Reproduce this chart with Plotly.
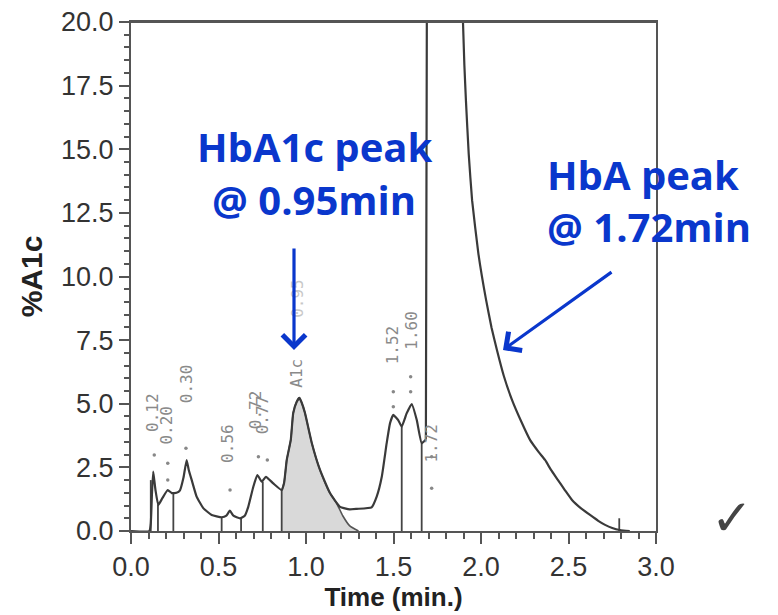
import plotly.graph_objects as go

# ---- data ----
time_min = [0.0, 0.105, 0.113, 0.12, 0.127, 0.14, 0.156, 0.18, 0.21, 0.233, 0.26, 0.28, 0.3, 0.318,
            0.33, 0.347, 0.375, 0.413, 0.461, 0.518, 0.545, 0.565, 0.585, 0.623, 0.65, 0.67, 0.699,
            0.722, 0.747, 0.771, 0.813, 0.861, 0.875, 0.89, 0.913, 0.927, 0.947, 0.962, 0.975, 0.994,
            1.033, 1.08, 1.137, 1.194, 1.25, 1.29, 1.375, 1.404, 1.433, 1.461, 1.48, 1.499, 1.527,
            1.547, 1.575, 1.604, 1.633, 1.661, 1.685, 1.697, 1.89, 1.897, 1.905, 1.914, 1.93, 1.949,
            1.985, 2.029, 2.06, 2.091, 2.13, 2.177, 2.23, 2.28, 2.33, 2.366, 2.40, 2.44, 2.48, 2.52,
            2.57, 2.623, 2.67, 2.709, 2.75, 2.794, 2.85]
pct_a1c = [0.0, 0.0, 0.3, 1.5, 2.33, 1.6, 1.02, 1.3, 1.61, 1.49, 1.5, 1.6, 2.1, 2.79,
           2.4, 2.0, 1.35, 0.9, 0.63, 0.54, 0.6, 0.8, 0.6, 0.5, 0.6, 0.95, 1.74,
           2.2, 1.94, 2.13, 1.87, 1.61, 1.9, 2.79, 3.58, 4.64, 5.08, 5.23, 5.05, 4.64,
           3.46, 2.4, 1.49, 0.95, 0.85, 0.87, 0.93, 1.35, 2.13, 3.45, 4.23, 4.56, 4.36,
           4.1, 4.62, 4.99, 4.36, 3.45, 3.6, 40.0, 40.0, 20.0, 18.3, 16.9, 14.8, 13.0,
           10.9, 9.08, 8.0, 7.11, 6.1, 5.15, 4.3, 3.58, 3.1, 2.79, 2.4, 2.0, 1.6, 1.22,
           0.9, 0.63, 0.4, 0.24, 0.12, 0.04, 0.0]

# shaded A1c peak area (with tangent skim to baseline)
a1c_time = [0.861, 0.875, 0.89, 0.913, 0.927, 0.947, 0.962, 0.975, 0.994, 1.033, 1.08, 1.137,
            1.175, 1.21, 1.25, 1.3]
a1c_val = [1.61, 1.9, 2.79, 3.58, 4.64, 5.08, 5.23, 5.05, 4.64, 3.46, 2.4, 1.49,
           1.09, 0.6, 0.2, 0.0]

# integration drop lines (time, height)
drop_t = [0.113, 0.154, 0.242, 0.518, 0.629, 0.753, 0.861, 1.547, 1.661, 2.79]
drop_v = [2.0, 1.05, 1.49, 0.54, 0.5, 1.94, 1.61, 4.1, 3.45, 0.5]

# small peak markers above peaks
mark_t = [0.133, 0.21, 0.21, 0.314, 0.566, 0.728, 0.779, 1.499, 1.499, 1.598, 1.598, 1.718, 1.718]
mark_v = [2.99, 2.66, 2.0, 3.25, 1.61, 2.92, 2.79, 5.47, 4.88, 6.06, 5.47, 2.92, 1.68]

# rotated peak labels
lab_text = ["0.12", "0.20", "0.30", "0.56", "0.72", "0.77", "A1c", "0.95", "1.52", "1.60", "1.72"]
lab_t = [0.126, 0.204, 0.322, 0.554, 0.709, 0.749, 0.947, 0.954, 1.499, 1.604, 1.718]
lab_v = [4.64, 4.17, 5.78, 3.46, 4.75, 4.55, 6.21, 9.16, 7.31, 7.9, 3.46]

x_ticks = [0.0, 0.5, 1.0, 1.5, 2.0, 2.5, 3.0]
y_ticks = [0.0, 2.5, 5.0, 7.5, 10.0, 12.5, 15.0, 17.5, 20.0]

# page has an 8px body margin; figure is sized/shifted to compensate
OFF = 8
W, H = 778 - OFF, 615 - OFF
PL, PR, PT, PB = 131, 656, 22, 531          # plot area in page pixels
L, T = PL - OFF, PT - OFF
R, B = W - (PR - OFF), H - (PB - OFF)
pw, ph = PR - PL, PB - PT


def px(xp):
    return (xp - PL) / pw


def py(yp):
    return (PB - yp) / ph


fig = go.Figure()

fig.add_trace(go.Scatter(x=a1c_time, y=a1c_val, mode="lines", fill="tozeroy",
                         fillcolor="#d9d9d9", line=dict(color="#555555", width=1.6, shape="spline",
                                                        smoothing=0.5),
                         hoverinfo="skip", showlegend=False))

dx, dy = [], []
for t, v in zip(drop_t, drop_v):
    dx += [t, t, None]
    dy += [0, v, None]
fig.add_trace(go.Scatter(x=dx, y=dy, mode="lines", line=dict(color="#444444", width=1.8),
                         hoverinfo="skip", showlegend=False))

# main trace: smooth parts as splines, the steep, off-scale HbA edges as straight lines
i_up = time_min.index(1.685)
i_down = time_min.index(1.897)
segments = [(0, i_up + 1, "spline"), (i_up, i_down + 1, "linear"), (i_down, len(time_min), "spline")]
for a, b, shape in segments:
    fig.add_trace(go.Scatter(x=time_min[a:b], y=pct_a1c[a:b], mode="lines",
                             line=dict(color="#3a3a3a", width=2.2, shape=shape, smoothing=0.4),
                             showlegend=False))

fig.add_trace(go.Scatter(x=mark_t, y=mark_v, mode="markers",
                         marker=dict(color="#888888", size=3.5), showlegend=False,
                         hoverinfo="skip"))

for txt, t, v in zip(lab_text, lab_t, lab_v):
    fig.add_annotation(x=t, y=v, text=txt, showarrow=False, textangle=-90,
                       font=dict(family="DejaVu Sans Mono", size=16,
                                 color="#c8c8c8" if txt == "0.95" else "#8a8a8a"))

blue = "#0a37cc"
bfont = dict(family="Open Sans", size=40, color=blue, weight="bold")
fig.add_annotation(xref="paper", yref="paper", x=px(314), y=py(146), text="HbA1c peak",
                   showarrow=False, xanchor="center", yanchor="middle", font=bfont)
fig.add_annotation(xref="paper", yref="paper", x=px(314), y=py(199), text="@ 0.95min",
                   showarrow=False, xanchor="center", yanchor="middle", font=bfont)
fig.add_annotation(xref="paper", yref="paper", x=px(545), y=py(174), text="HbA peak",
                   showarrow=False, xanchor="left", yanchor="middle", font=bfont)
fig.add_annotation(xref="paper", yref="paper", x=px(545), y=py(227), text="@ 1.72min",
                   showarrow=False, xanchor="left", yanchor="middle", font=bfont)

# arrows
fig.add_annotation(xref="paper", yref="paper", x=px(294), y=py(350), ax=0, ay=-103,
                   text="", showarrow=True, arrowhead=4, arrowsize=1.4, arrowwidth=3.2,
                   arrowcolor=blue, standoff=0)
fig.add_annotation(xref="paper", yref="paper", x=px(503), y=py(350), ax=110, ay=-79,
                   text="", showarrow=True, arrowhead=4, arrowsize=1.4, arrowwidth=3.2,
                   arrowcolor=blue, standoff=0)

fig.add_annotation(xref="paper", yref="paper", x=px(755), y=py(549), text="✓",
                   showarrow=False, font=dict(family="DejaVu Sans", size=50, color="#444444"))

axis_common = dict(showgrid=False, zeroline=False, showline=True, linecolor="#555555",
                   linewidth=2, mirror=True, ticks="outside", tickcolor="#555555",
                   tickwidth=2, automargin=False, ticklabeloverflow="allow",
                   tickfont=dict(family="Liberation Sans", size=27, color="#333333"))

fig.update_xaxes(range=[0, 3], tickvals=x_ticks, ticktext=[f"{v:.1f}" for v in x_ticks],
                 ticklen=11,
                 minor=dict(dtick=0.1, ticks="outside", ticklen=6, tickcolor="#555555", tickwidth=1.5),
                 title=dict(text="<b>Time (min.)</b>", standoff=2,
                            font=dict(family="Liberation Sans", size=26, color="#222222")),
                 **axis_common)
fig.update_yaxes(range=[0, 20], tickvals=y_ticks, ticktext=[f"{v:.1f}" for v in y_ticks],
                 ticklen=10,
                 minor=dict(dtick=0.5, ticks="outside", ticklen=5, tickcolor="#555555", tickwidth=1.5),
                 title=dict(text="<b>%A1c</b>", standoff=10,
                            font=dict(family="Liberation Sans", size=30, color="#222222")),
                 **axis_common)

# top frame line (backup for the mirrored axis line)
fig.add_shape(type="line", xref="paper", yref="paper", x0=0, x1=1, y0=1, y1=1,
              line=dict(color="#555555", width=2))

fig.update_layout(width=W, height=H, margin=dict(l=L, r=R, t=T, b=B),
                  paper_bgcolor="white", plot_bgcolor="white")

fig.write_html("out.html")
